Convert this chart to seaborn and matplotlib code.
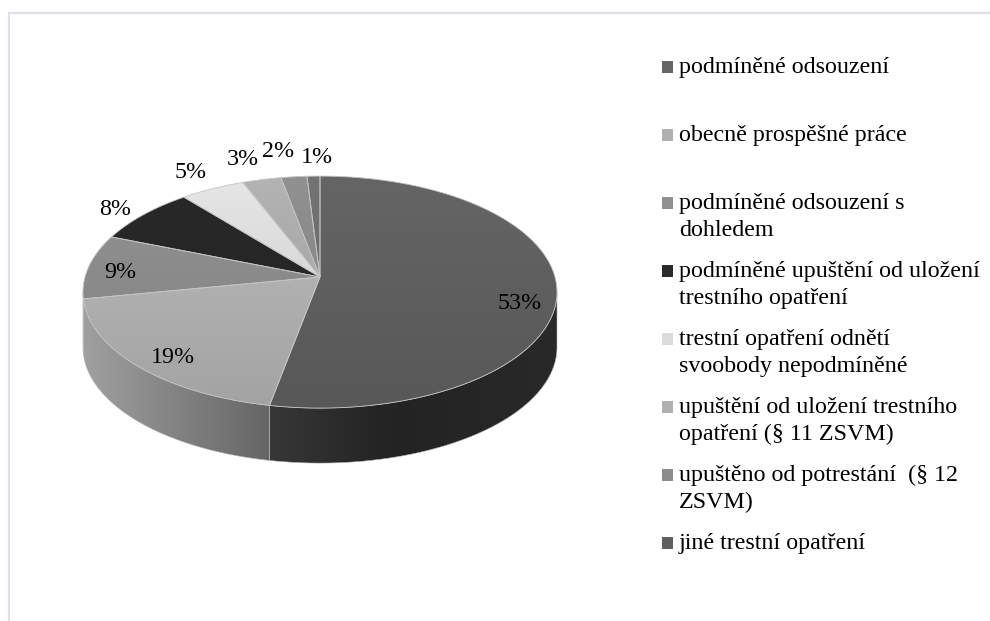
import numpy as np
import matplotlib
matplotlib.use("Agg")
import matplotlib.pyplot as plt
import seaborn as sns
from matplotlib.patches import Polygon, Rectangle
from matplotlib.transforms import Transform
from matplotlib.path import Path

# ---------------- data ----------------
categories = [
    "podmíněné odsouzení",
    "obecně prospěšné práce",
    "podmíněné odsouzení s\ndohledem",
    "podmíněné upuštění od uložení\ntrestního opatření",
    "trestní opatření odnětí\nsvoobody nepodmíněné",
    "upuštění od uložení trestního\nopatření (§ 11 ZSVM)",
    "upuštěno od potrestání  (§ 12\nZSVM)",
    "jiné trestní opatření",
]
shares = [53, 19, 9, 8, 5, 3, 2, 1]
slice_grays = [0x5f, 0xb0, 0x8a, 0x26, 0xd8, 0xa8, 0x88, 0x6c]
legend_grays = [0x66, 0xb0, 0x90, 0x2a, 0xdc, 0xb0, 0x8c, 0x60]

# label layout: (radius on the disc, pixel offset x, pixel offset y[down])
label_layout = [(0.85, -1, 17), (0.85, 6, 6), (0.85, -3, 5),
                (1.0, -28, -5), (1.0, -22, -16), (1.0, -19, -20),
                (1.0, -16, -25), (1.0, 3, -19)]

# ---------------- style ----------------
sns.set_theme(style="white")
plt.rcParams["font.family"] = ["Liberation Serif", "DejaVu Serif"]
FS = 17.3

W, H = 990, 621
fig = plt.figure(figsize=(W / 100, H / 100), dpi=100)
fig.patch.set_facecolor("white")

# light frame (top + left visible)
fig.add_artist(Rectangle((9 / W, -0.1), 2.0, (H - 13) / H + 0.1,
                         transform=fig.transFigure, fill=False,
                         edgecolor="#dde1e6", lw=1.6))


# ---------------- perspective tilt of the pie disc ----------------
class Tilt(Transform):
    input_dims = output_dims = 2
    is_separable = False
    has_inverse = False

    def __init__(self, sx, sy, k):
        super().__init__()
        self.sx, self.sy, self.k = sx, sy, k

    def transform_non_affine(self, values):
        v = np.atleast_2d(np.asarray(values, float))
        d = 1 + self.k * v[:, 1]
        return np.column_stack([self.sx * v[:, 0] / d, self.sy * v[:, 1] / d])

    def transform_path_non_affine(self, path):
        pts = []
        for seg, code in path.iter_bezier():
            if code == Path.MOVETO:
                pts.append(np.atleast_2d(seg.control_points[-1]))
            else:
                pts.append(seg(np.linspace(0, 1, 24))[1:])
        v = np.vstack(pts)
        return Path(self.transform_non_affine(v), closed=True)


K = 0.13
tilt = Tilt(237 * np.sqrt(1 - K ** 2), 116 * (1 - K ** 2), K)
apex_x, apex_y = 320, 277          # pixel position of the pie centre
depth_px = 55

ax = fig.add_axes([0, 0, 1, 1])
ax.set_axis_off()


def g2hex(g):
    return "#%02x%02x%02x" % (g, g, g)


colors = [g2hex(g) for g in slice_grays]
wedges, _, autotexts = ax.pie(
    shares, colors=colors, startangle=90, counterclock=False,
    autopct="%.0f%%", pctdistance=0.85,
    textprops=dict(fontsize=FS, color="black"),
    wedgeprops=dict(edgecolor="#c4c4c4", linewidth=0.6, zorder=3),
)

# top faces: subtle vertical shading inside each wedge
vgrad = np.linspace(0.92, 1.07, 200)[:, None]
for w, g in zip(wedges, slice_grays):
    w.set_transform(tilt + ax.transData)
    vals = np.clip(g * vgrad / 255.0, 0, 1)
    img = np.repeat(vals[:, :, None], 3, axis=2)
    im = ax.imshow(img, extent=(-245, 245, -140, 110), origin="lower",
                   aspect="auto", interpolation="bilinear", zorder=2.9)
    im.set_clip_path(w)

# side walls with horizontal gradient
a0 = np.degrees(np.arcsin(K))
xs_grad = np.linspace(-1, 1, 400)
shade = np.interp(xs_grad, [-1, -0.2, 0.3, 1], [0.91, 0.57, 0.37, 0.43])
for w, g in zip(wedges, slice_grays):
    a, b = w.theta1, w.theta2
    for k in (-1, 0, 1):
        lo, hi = max(a, -180 + a0 + 360 * k), min(b, -a0 + 360 * k)
        if hi <= lo:
            continue
        t = np.radians(np.linspace(lo, hi, 200))
        top = tilt.transform(np.column_stack([np.cos(t), np.sin(t)]))
        bot = top[::-1] - [0, depth_px]
        poly = Polygon(np.vstack([top, bot]), closed=True, facecolor="none",
                       edgecolor="#b4b4b4", lw=0.4, zorder=2)
        ax.add_patch(poly)
        vals = np.clip(g * shade / 255.0, 0, 1)
        img = np.repeat(vals[None, :, None], 3, axis=2)
        im = ax.imshow(img, extent=(-237, 237, -200, 30),
                       aspect="auto", interpolation="bilinear", zorder=1)
        im.set_clip_path(poly)

# wedges keep their outlines above the shading
for w in wedges:
    w.set_facecolor("none")

# percentage labels
for w, t, (r, ox, oy) in zip(wedges, autotexts, label_layout):
    th = np.radians((w.theta1 + w.theta2) / 2)
    px, py = tilt.transform(np.array([[r * np.cos(th), r * np.sin(th)]]))[0]
    t.set_position((px + ox, py - oy))
    t.set_zorder(5)

ax.set_aspect("auto")
ax.set_xlim(-apex_x, W - apex_x)
ax.set_ylim(-(H - apex_y), apex_y)

# ---------------- legend axes ----------------
lax = fig.add_axes([0, 0, 1, 1])
lax.set_axis_off()
lax.patch.set_alpha(0)
first_px, step_px, line_px = 67, 68, 27
lax.set_xlim(0, 1)
lax.set_ylim((H - first_px) / step_px, -first_px / step_px)
idx = np.arange(len(categories))
lax.scatter(np.full(len(idx), 667.5 / W), idx, marker="s", s=(11.5 * 0.72) ** 2,
            c=[g2hex(g) for g in legend_grays], linewidths=0)
for i, lab in zip(idx, categories):
    for j, line in enumerate(lab.split("\n")):
        lax.text(679 / W, i + (6 + line_px * j) / step_px, line, fontsize=FS,
                 va="baseline", ha="left", color="black")

fig.savefig("out.png", dpi=100, facecolor="white")
